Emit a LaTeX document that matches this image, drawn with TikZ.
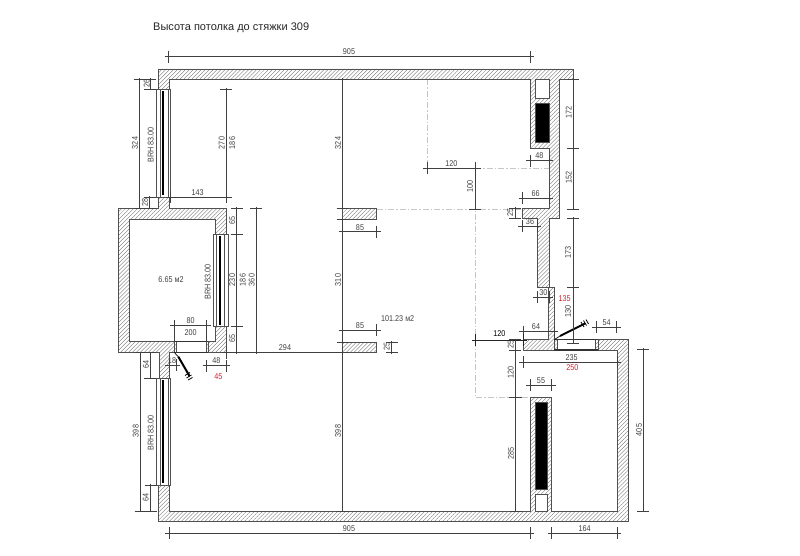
\documentclass[tikz,border=0pt]{standalone}
\usepackage{fontspec}
\usetikzlibrary{patterns.meta}
\setmainfont{Liberation Sans}
\newfontfamily\dimfont[FakeStretch=0.86]{Liberation Sans}
\definecolor{dimc}{HTML}{404040}
\definecolor{wallc}{HTML}{505050}
\definecolor{hatchc}{HTML}{707070}
\definecolor{redc}{HTML}{D02030}
\newcount\lblcnt
\tikzset{
  wall/.style={draw=wallc,line width=0.7pt,pattern={Lines[angle=45,distance=2.8pt,line width=0.35pt]},pattern color=hatchc},
  dimline/.style={draw=dimc,line width=0.65pt},
  dimtext/.style={inner sep=0pt,text=dimc,font=\dimfont\fontsize{8.4}{9}\selectfont},
  redtext/.style={dimtext,text=redc},
  void/.style={fill=white,draw=wallc,line width=0.6pt},
  flue/.style={fill=black,draw=wallc,line width=0.4pt},
  frame/.style={fill=white,draw=wallc,line width=0.5pt},
  doorbox/.style={draw=black!80,line width=1.1pt},
  guide/.style={draw=black!22,line width=0.7pt,dash pattern=on 6pt off 2pt on 1.5pt off 2pt},
  leaf/.style={draw=black,line width=2pt},
  thinleaf/.style={draw=black,line width=0.7pt}
}
% horizontal and vertical dimension lines with cross ticks
\newcommand{\hdim}[3]{\draw[dimline] (#1-4,#3) -- (#2+4,#3) (#1,#3-6) -- (#1,#3+6) (#2,#3-6) -- (#2,#3+6);}
\newcommand{\vdim}[3]{\draw[dimline] (#1,#2-1) -- (#1,#3+1) (#1-6,#2) -- (#1+6,#2) (#1-6,#3) -- (#1+6,#3);}
\newcommand{\lab}[3]{\global\advance\lblcnt by 1 \node[dimtext] (t\the\lblcnt) at (#1,#2) {#3};}
\newcommand{\vlab}[3]{\global\advance\lblcnt by 1 \node[dimtext,rotate=90] (t\the\lblcnt) at (#1,#2) {#3};}
\newcommand{\rlab}[3]{\global\advance\lblcnt by 1 \node[redtext] (t\the\lblcnt) at (#1,#2) {#3};}
% window: x0, y0, y1, inner offsets
\newcommand{\vwindow}[5]{%
  \draw[frame] (#1,#2) rectangle (#1+14.6,#3);
  \draw[draw=wallc,line width=0.5pt] (#1+#4,#2) -- (#1+#4,#3) (#1+#5,#2) -- (#1+#5,#3);
  \draw[draw=black,line width=1.9pt] (#1+7,#2+2) -- (#1+7,#3-2);
}
\begin{document}
\begin{tikzpicture}[x=1pt,y=-1pt]
\useasboundingbox (0,0) rectangle (800,556);
% title
\node[anchor=west,inner sep=0pt,text=black!85,font=\fontsize{11}{13}\selectfont] (title) at (153,27.5) {Высота потолка до стяжки 309};
% guides
\draw[guide] (427.3,79.3) -- (427.3,168.3);
\draw[guide] (475,168.3) -- (549,168.3);
\draw[guide] (376.7,209) -- (522.3,209);
\draw[guide] (475.3,168.3) -- (475.3,397.3) -- (530.3,397.3);
% walls
\draw[wall] (158.3,69) -- (573,69) -- (573,79.3) -- (559.7,79.3) -- (559.7,218.3) -- (549.3,218.3) -- (549.3,287.7) -- (554,287.7) -- (554,350) -- (523.3,350) -- (523.3,339.5) -- (548.7,339.5) -- (548.7,287.7) -- (537.3,287.7) -- (537.3,218.3) -- (522.3,218.3) -- (522.3,208.3) -- (549,208.3) -- (549,148.3) -- (530,148.3) -- (530,79.3) -- (169,79.3) -- (169,89.3) -- (158.3,89.3) -- cycle;
\draw[wall] (598,339.5) -- (628,339.5) -- (628,521.7) -- (158.3,521.7) -- (158.3,485.3) -- (169,485.3) -- (169,511) -- (530.3,511) -- (530.3,397.3) -- (551.7,397.3) -- (551.7,511) -- (617.3,511) -- (617.3,350) -- (598,350) -- cycle;
\draw[wall] (158.3,197) -- (169,197) -- (169,208.3) -- (226,208.3) -- (226,234.3) -- (215,234.3) -- (215,219.3) -- (129,219.3) -- (129,341.7) -- (174,341.7) -- (174,352.7) -- (169,352.7) -- (169,378.3) -- (159,378.3) -- (159,352.7) -- (118.3,352.7) -- (118.3,208.3) -- (158.3,208.3) -- cycle;
\draw[wall] (208.3,341.7) -- (215,341.7) -- (215,326.7) -- (226,326.7) -- (226,352.7) -- (208.3,352.7) -- cycle;
\draw[wall] (342.5,208.3) rectangle (376.7,219);
\draw[wall] (342.5,342.2) rectangle (376.7,352.7);
% shafts
\draw[void] (535,79.3) rectangle (549,98.3);
\draw[flue] (535,103) rectangle (549,142.7);
\draw[flue] (535,402.3) rectangle (547.3,489);
\draw[void] (535,494) rectangle (547.3,511);
% windows
\vwindow{156}{89.3}{197}{4}{12.2}
\vwindow{156}{378.3}{485.3}{4}{12.2}
\vwindow{213.2}{234.3}{326.7}{3.5}{10.8}
% doors
\draw[wall] (174,341.7) rectangle (176,352.7);
\draw[wall] (206.3,341.7) rectangle (208.3,352.7);
\draw[doorbox] (174,341.7) -- (208.3,341.7) (174,352.7) -- (208.3,352.7);
\draw[wall] (554.3,339.5) rectangle (557,350);
\draw[wall] (595.5,339.5) rectangle (598,350);
\draw[doorbox] (554.3,339.5) -- (598,339.5) (554.3,350) -- (598,350);
\draw[thinleaf] (174.5,352.7) -- (178.3,356.7);
\draw[leaf] (178.3,356.7) -- (189.5,376);
\draw[draw=black,line width=0.8pt] (185,375.5) -- (190,372.5) (186.5,378) -- (191.5,375) (188,380) -- (192.5,377.5);
\draw[thinleaf] (554.5,339.5) -- (560,336);
\draw[leaf] (560,336) -- (585,323.5);
\draw[draw=black,line width=0.8pt] (581,322) -- (584,327) (583.5,320.5) -- (586.5,325.5) (586,319.5) -- (588.5,324);
% left dimensions
\vdim{139.5}{79.3}{208.3}
\vdim{150}{79.3}{89.3}
\vdim{149.5}{197}{208.3}
\vdim{226}{89.3}{197}
\hdim{170}{226}{197}
\vdim{342.5}{79.3}{208.3}
\hdim{342.5}{376.7}{231.7}
\vdim{236.7}{208.3}{234.3}
\vdim{236.7}{234.3}{326.7}
\vdim{236.7}{326.7}{352.7}
\vdim{256}{208.3}{352.7}
\hdim{226}{342.5}{352.7}
\vdim{342.5}{219}{342.2}
\hdim{342.5}{376.7}{330}
\vdim{391.7}{342.2}{352.7}
\vdim{342.5}{352.7}{511}
\vdim{140.7}{352.7}{511}
\vdim{150}{352.7}{378.3}
\vdim{150.7}{485.3}{511}
\hdim{174.3}{206.7}{325.5}
\draw[dimline] (174.3,325.5) -- (174.3,341.7) (206.7,325.5) -- (206.7,341.7);
\hdim{169.3}{176}{365}
\hdim{206.7}{226}{365.5}
% top and bottom
\hdim{168.5}{530}{56.7}
\hdim{169}{530}{533.3}
\hdim{551.7}{617.3}{533.3}
% right dimensions
\vdim{573.3}{79.3}{148.3}
\vdim{573.3}{148.3}{209}
\vdim{573.3}{218.3}{287.7}
\vdim{573.3}{287.7}{343}
\hdim{530}{549}{160.7}
\hdim{522.7}{549}{198.3}
\hdim{427.3}{475}{168.3}
\vdim{475}{168.3}{209}
\vdim{515}{208.3}{218.3}
\hdim{522.3}{537.3}{226}
\hdim{537.3}{549}{297}
\hdim{523.3}{554}{331.7}
\hdim{596}{616.7}{327.3}
\hdim{523.3}{617.3}{362.3}
\draw[draw=black!85,line width=0.8pt] (471.5,340) -- (527,340) (475.3,334) -- (475.3,346) (523.3,334) -- (523.3,346);
\vdim{515}{339.5}{350}
\vdim{515}{350}{397.3}
\hdim{530.3}{551.7}{385}
\vdim{515.7}{397.3}{511}
\vdim{643.3}{349}{511}
% labels
\lab{349}{51.5}{905}
\lab{349}{529}{905}
\lab{584.7}{529}{164}
\vlab{135}{143}{324}
\vlab{146.7}{83.5}{26}
\vlab{145}{202.7}{28}
\vlab{150.7}{145}{BRH 83.00}
\vlab{221.7}{143}{270}
\vlab{232.3}{143}{186}
\lab{197.7}{192.3}{143}
\vlab{338}{143}{324}
\lab{360}{227.7}{85}
\vlab{232.3}{220.7}{65}
\vlab{232.3}{280}{230}
\vlab{242.7}{280}{186}
\vlab{251.7}{280}{360}
\vlab{232.3}{338.3}{65}
\lab{285}{347.7}{294}
\vlab{338}{280}{310}
\lab{360}{325.7}{85}
\vlab{386.7}{346.7}{25}
\lab{397.7}{318.3}{101.23 м2}
\vlab{338}{431}{398}
\vlab{135.7}{431}{398}
\vlab{146}{364}{64}
\vlab{145.7}{497.7}{64}
\vlab{150.7}{432.7}{BRH 83.00}
\vlab{207.7}{281.7}{BRH 83.00}
\lab{171}{280}{6.65 м2}
\lab{190.7}{321}{80}
\lab{190.7}{332.7}{200}
\lab{172}{361}{18}
\lab{216.3}{361}{48}
\rlab{218.3}{376.7}{45}
\vlab{568.7}{112.3}{172}
\vlab{568.7}{177.3}{152}
\vlab{568}{252.3}{173}
\vlab{568}{311.7}{130}
\rlab{564.7}{298.3}{135}
\lab{539.3}{156}{48}
\lab{535.7}{194}{66}
\lab{451.3}{164}{120}
\vlab{470}{186.7}{100}
\vlab{510.3}{212.7}{25}
\lab{530}{221.7}{36}
\lab{543.3}{292.7}{30}
\lab{536}{326.7}{64}
\lab{606.7}{322.7}{54}
\lab{571.7}{357.7}{235}
\rlab{572.3}{367.3}{250}
\node[dimtext,text=black] (tblack) at (499.3,334) {120};
\vlab{510.7}{344}{25}
\vlab{510.7}{372.7}{120}
\lab{541}{381}{55}
\vlab{511}{453.3}{285}
\vlab{639}{430}{405}
\end{tikzpicture}
\end{document}
